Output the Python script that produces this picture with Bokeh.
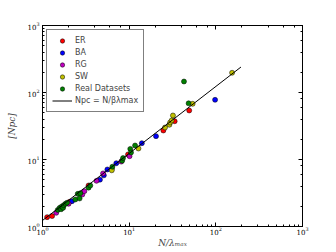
from bokeh.plotting import figure
from bokeh.models import LogAxis, LogTicker, Legend, LegendItem
from bokeh.embed import file_html
from bokeh.resources import INLINE

# ---- data ----
er_x = [1.13, 1.29, 2.05, 3.40, 9.7, 24.8, 33.5, 49.3]
er_y = [1.38, 1.43, 2.34, 4.09, 11.9, 27.1, 37.3, 53.9]

ba_x = [2.19, 4.6, 5.1, 5.6, 7.1, 14.0, 20.4, 98.0]
ba_y = [2.39, 5.0, 5.8, 7.1, 8.8, 17.5, 22.3, 77.8]

rg_x = [1.44, 2.0, 2.88, 3.04, 4.2, 5.0, 6.3, 8.1, 10.1]
rg_y = [1.60, 2.18, 3.0, 3.37, 4.8, 6.2, 7.2, 9.3, 11.2]

sw_x = [6.3, 12.8, 25.9, 29.1, 29.7, 30.9, 32.0, 54.0, 154.0]
sw_y = [6.9, 14.6, 30.0, 33.0, 35.7, 38.2, 45.4, 67.8, 197.0]

real_x = [1.50, 1.58, 1.64, 1.67, 1.73, 1.76, 1.84, 1.92, 2.39, 2.55, 2.68,
          2.73, 3.4, 3.56, 6.4, 8.3, 8.5, 10.3, 10.5, 11.7, 42.9, 48.5]
real_y = [1.77, 1.90, 1.81, 1.99, 1.90, 2.08, 2.18, 2.26, 2.53, 3.07, 2.62,
          3.14, 3.8, 4.09, 7.8, 9.6, 10.5, 14.4, 12.7, 16.2, 146.0, 69.0]

fit_x = [1.0, 195.0]
fit_y = [1.23, 240.0]

series_labels = ["ER", "BA", "RG", "SW", "Real Datasets"]
series_colors = ["#ff0000", "#0000ff", "#bf00bf", "#bfbf00", "#008000"]
fit_label = "Npc = N/βλmax"

# ---- figure ----
p = figure(frame_width=260, frame_height=201,
           x_axis_type="log", y_axis_type="log",
           x_range=(1, 1000), y_range=(1, 1000),
           output_backend="svg", toolbar_location=None,
           min_border_left=42, min_border_right=34,
           min_border_top=25, min_border_bottom=24)
p.grid.visible = False
p.outline_line_color = "black"
p.outline_line_width = 1
p.background_fill_color = "white"
p.border_fill_color = "white"

def style_axis(ax, show_labels=True):
    ax.major_tick_in = 4
    ax.major_tick_out = 0
    ax.minor_tick_in = 2
    ax.minor_tick_out = 0
    ax.axis_line_color = "black"
    ax.major_tick_line_color = "black"
    ax.minor_tick_line_color = "black"
    ax.major_label_text_font = "DejaVu Serif"
    ax.major_label_text_color = "black"
    ax.major_label_text_font_size = "7px"
    if show_labels:
        ax.major_label_standoff = 2
    else:
        ax.major_label_text_alpha = 0
        ax.major_label_standoff = 0

for ax in p.xaxis + p.yaxis:
    style_axis(ax)

p.xaxis.axis_label = "N/λₘₐₓ"
p.yaxis.axis_label = "[Npc]"
for ax in p.xaxis + p.yaxis:
    ax.axis_label_text_font = "DejaVu Serif"
    ax.axis_label_text_font_style = "italic"
    ax.axis_label_text_font_size = "9px"
p.xaxis.axis_label_standoff = 0
p.xaxis.major_label_standoff = 0
p.yaxis.axis_label_standoff = 7
p.yaxis.major_label_standoff = 3

top = LogAxis(ticker=LogTicker())
style_axis(top, show_labels=False)
p.add_layout(top, "above")
right = LogAxis(ticker=LogTicker())
style_axis(right, show_labels=False)
p.add_layout(right, "right")

# ---- data marks ----
renderers = []
for xs, ys, c in zip([er_x, ba_x, rg_x, sw_x, real_x],
                     [er_y, ba_y, rg_y, sw_y, real_y], series_colors):
    r = p.scatter(xs, ys, size=5, fill_color=c, line_color="black",
                  line_width=0.5, marker="circle")
    renderers.append(r)

fit = p.line(fit_x, fit_y, line_color="black", line_width=1)

items = [LegendItem(label=l, renderers=[r]) for l, r in zip(series_labels, renderers)]
items.append(LegendItem(label=fit_label, renderers=[fit]))
legend = Legend(items=items, location="top_left")
legend.label_text_font = "DejaVu Sans"
legend.label_text_font_size = "8px"
legend.glyph_width = 20
legend.glyph_height = 11
legend.label_height = 11
legend.spacing = 1
legend.padding = 5
legend.margin = 4
legend.label_standoff = 3
legend.border_line_color = "black"
legend.border_line_width = 1
legend.background_fill_alpha = 1
p.add_layout(legend)

open("out.html", "w").write(file_html(p, INLINE))
